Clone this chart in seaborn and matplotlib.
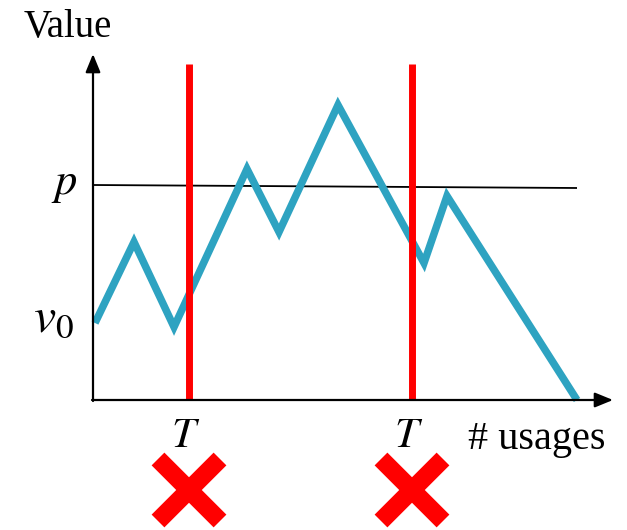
import matplotlib
matplotlib.use("Agg")
import matplotlib.pyplot as plt
import seaborn as sns
import pandas as pd

sns.set_style("white")
plt.rcParams["mathtext.fontset"] = "stix"
plt.rcParams["font.family"] = ["Liberation Serif", "DejaVu Serif"]
plt.rcParams["text.color"] = "black"

# value trajectory over usages
usages = [0.2, 4.1, 8.1, 15.4, 18.6, 24.5, 33.1, 35.4, 48.4]
values = [7.7, 15.8, 7.3, 23.1, 16.8, 29.5, 13.7, 20.4, 0.0]

# price level p (drawn as a nearly flat reference line)
p_x = [0.0, 48.4]
p_y = [21.5, 21.2]
v0_level = 7.7

# thresholds T where the check happens
thresholds = [9.6, 31.9]
threshold_top = 33.6

df = pd.DataFrame({"usages": usages, "value": values})

fig = plt.figure(figsize=(6.27, 5.30), dpi=100)
ax = fig.add_axes([0, 0, 1, 1])
ax.set_xlim(-9.3, 53.4)
ax.set_ylim(-13.0, 40.0)
ax.axis("off")

# price line
ax.plot(p_x, p_y, color="black", lw=1.3, zorder=2)

# value trajectory
sns.lineplot(data=df, x="usages", y="value", ax=ax, color="#2EA3C1", lw=5.4,
             sort=False, zorder=3)
for ln in ax.get_lines():
    ln.set_solid_joinstyle("miter")
    ln.set_solid_capstyle("butt")

# threshold markers
for t in thresholds:
    ax.plot([t, t], [0, threshold_top], color="#FF0000", lw=5.0,
            solid_capstyle="butt", zorder=4)

# axes with arrows
arrow = dict(arrowstyle="-|>,head_length=1.1,head_width=0.45", color="black",
             lw=1.6, shrinkA=0, shrinkB=0)
ax.annotate("", xy=(0, 34.6), xytext=(0, -0.1), arrowprops=arrow, zorder=5)
ax.annotate("", xy=(52.0, 0), xytext=(-0.1, 0), arrowprops=arrow, zorder=5)

# labels
ax.text(-2.5, 37.3, "Value", fontsize=28, ha="center", va="center")
ax.text(44.4, -4.0, "# usages", fontsize=29, ha="center", va="center")
ax.text(-2.9, p_y[0], "$p$", fontsize=32, ha="center", va="center")
ax.text(-4.0, v0_level + 0.4, "$v_0$", fontsize=36, ha="center", va="center")
for t in thresholds:
    ax.text(t - 0.3, -3.7, "$T$", fontsize=31, ha="center", va="center")
    # red cross below each threshold
    d = 3.1
    cx, cy = t, -9.0
    ax.plot([cx - d, cx + d], [cy + d, cy - d], color="#FF0000", lw=13,
            solid_capstyle="butt")
    ax.plot([cx - d, cx + d], [cy - d, cy + d], color="#FF0000", lw=13,
            solid_capstyle="butt")

fig.savefig("out.png", dpi=100)
